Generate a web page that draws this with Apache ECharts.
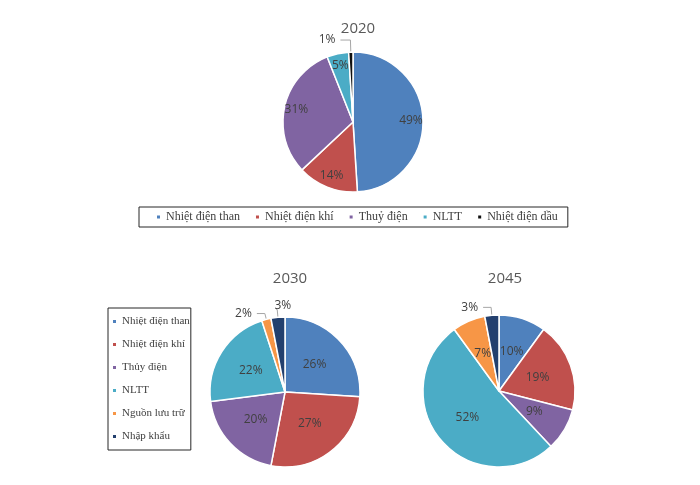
<!DOCTYPE html>
<html><head><meta charset="utf-8">
<script src="https://cdn.jsdelivr.net/npm/echarts@6/dist/echarts.min.js"></script>
<style>html,body{margin:0;background:#fff}#c{width:700px;height:485px}</style>
</head><body><div id="c"></div>
<script>
const titles = ['2020', '2030', '2045'];
const names2020 = ['Nhiệt điện than', 'Nhiệt điện khí', 'Thuỷ điện', 'NLTT', 'Nhiệt điện dầu'];
const values2020 = [49, 14, 31, 5, 1];
const names2030 = ['Nhiệt điện than', 'Nhiệt điện khí', 'Thủy điện', 'NLTT', 'Nguồn lưu trữ', 'Nhập khẩu'];
const values2030 = [26, 27, 20, 22, 2, 3];
const values2045 = [10, 19, 9, 52, 7, 3];
const colors2020 = ['#4F81BD', '#C0504D', '#8064A2', '#4BACC6', '#111111'];
const colors2030 = ['#4F81BD', '#C0504D', '#8064A2', '#4BACC6', '#F79646', '#23406E'];

const serif = 'Liberation Serif';
const sans = 'Open Sans';
const labelColor = '#404040';

function mainData(names, values, colors, outside, inside) {
  return values.map((v, i) => {
    const out = outside.indexOf(i) >= 0;
    return {
      name: names[i], value: v,
      itemStyle: { color: colors[i] },
      label: out ? { show: true, position: 'outside' } : { show: inside, position: 'inside' },
      labelLine: { show: out }
    };
  });
}
function overlayData(names, values, outside) {
  return values.map((v, i) => ({
    name: names[i], value: v,
    itemStyle: { color: 'rgba(0,0,0,0)', borderWidth: 0 },
    label: { show: outside.indexOf(i) < 0, position: 'inside' },
    labelLine: { show: false }
  }));
}

const baseLabel = {
  formatter: '{c}%', color: labelColor, fontSize: 12, fontFamily: sans
};
const lineStyle = { color: '#a6a6a6', width: 1 };

const data2030 = mainData(names2030, values2030, colors2030, [4, 5], true);
data2030[5].labelLine = { show: true, length: 8, length2: 1 };

const chart = echarts.init(document.getElementById('c'), null, { renderer: 'canvas' });
chart.setOption({
  animation: false,
  backgroundColor: '#fff',
  title: [
    { text: titles[0], left: 353, top: 16, textAlign: 'center', textStyle: { fontFamily: sans, fontSize: 15, fontWeight: 'normal', color: '#595959' } },
    { text: titles[1], left: 285, top: 266, textAlign: 'center', textStyle: { fontFamily: sans, fontSize: 15, fontWeight: 'normal', color: '#595959' } },
    { text: titles[2], left: 500, top: 266, textAlign: 'center', textStyle: { fontFamily: sans, fontSize: 15, fontWeight: 'normal', color: '#595959' } }
  ],
  legend: [
    {
      orient: 'horizontal', left: 139, top: 207,
      data: names2020.map((n, i) => ({ name: n, itemStyle: { color: colors2020[i] } })),
      icon: 'rect', itemWidth: 5, itemHeight: 5, itemGap: 14,
      padding: [4, 10, 4, 16],
      borderColor: '#262626', borderWidth: 1,
      selectedMode: false,
      textStyle: { fontFamily: serif, fontSize: 12, color: labelColor }
    },
    {
      orient: 'vertical', left: 108, top: 308,
      data: names2030.map((n, i) => ({ name: n, itemStyle: { color: colors2030[i] } })),
      icon: 'rect', itemWidth: 5, itemHeight: 5, itemGap: 12,
      padding: [8, 1, 8, 3],
      borderColor: '#262626', borderWidth: 1,
      selectedMode: false,
      textStyle: { fontFamily: serif, fontSize: 11, color: labelColor }
    }
  ],
  series: [
    {
      type: 'pie', center: [353, 122], radius: [0, 70], startAngle: 90,
      avoidLabelOverlap: false, silent: true,
      itemStyle: { borderColor: '#fff', borderWidth: 1.5 },
      label: baseLabel, labelLine: { length: 12, length2: 10, lineStyle: lineStyle },
      data: mainData(names2020, values2020, colors2020, [4], false)
    },
    {
      type: 'pie', center: [353, 122], radius: [0, 110], startAngle: 90, z: 3,
      silent: true, avoidLabelOverlap: false,
      label: baseLabel,
      data: overlayData(names2020, values2020, [4])
    },
    {
      type: 'pie', center: [285, 392], radius: [0, 75], startAngle: 90,
      avoidLabelOverlap: false, silent: true,
      itemStyle: { borderColor: '#fff', borderWidth: 1.5 },
      label: baseLabel, labelLine: { length: 6, length2: 8, lineStyle: lineStyle },
      labelLayout: function (p) {
        if (p.dataIndex === 5) return { dx: 20, dy: -4, hideOverlap: false };
        return { hideOverlap: false };
      },
      data: data2030
    },
    {
      type: 'pie', center: [499, 391], radius: [0, 76], startAngle: 90,
      avoidLabelOverlap: false, silent: true,
      itemStyle: { borderColor: '#fff', borderWidth: 1.5 },
      label: baseLabel, labelLine: { length: 8, length2: 8, lineStyle: lineStyle },
      data: mainData(names2030, values2045, colors2030, [5], true)
    }
  ]
});
</script>
</body></html>
